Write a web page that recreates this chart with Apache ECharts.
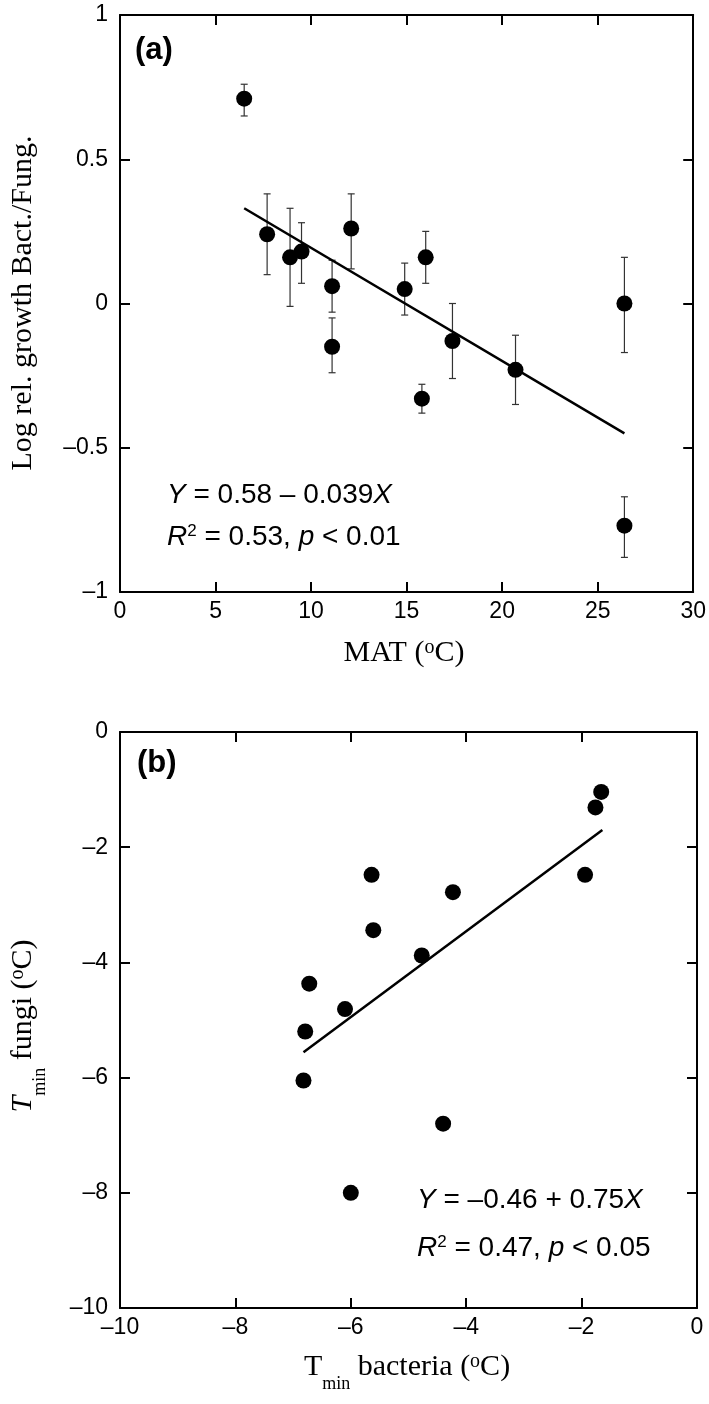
<!DOCTYPE html>
<html><head><meta charset="utf-8">
<script src="https://cdn.jsdelivr.net/npm/echarts@6/dist/echarts.min.js"></script>
<style>html,body{margin:0;padding:0;background:#fff}#c{width:709px;height:1404px}</style>
</head><body><div id="c"></div>
<script>
// ---------- Panel (a): MAT vs log relative growth Bact./Fung. ----------
const matX        = [6.5, 7.7, 8.9, 9.5, 11.1, 11.1, 12.1, 14.9, 16.0, 15.8, 17.4, 20.7, 26.4, 26.4];
const ratioY      = [0.71, 0.24, 0.16, 0.18, 0.06, -0.15, 0.26, 0.05, 0.16, -0.33, -0.13, -0.23, 0.00, -0.77];
const ratioErrHi  = [0.76, 0.38, 0.33, 0.28, 0.15, -0.05, 0.38, 0.14, 0.25, -0.28, 0.00, -0.11, 0.16, -0.67];
const ratioErrLo  = [0.65, 0.10, -0.01, 0.07, -0.03, -0.24, 0.12, -0.04, 0.07, -0.38, -0.26, -0.35, -0.17, -0.88];
const fitLineA    = [[6.5, 0.33], [26.4, -0.45]];
const xTicksA     = {min: 0, max: 30, step: 5};
const yTicksA     = {min: -1, max: 1, step: 0.5};

// ---------- Panel (b): Tmin bacteria vs Tmin fungi ----------
const bactTmin    = [-1.66, -1.76, -1.94, -4.23, -5.64, -5.61, -4.77, -6.72, -6.10, -6.79, -6.82, -6.00, -4.40];
const fungiTmin   = [-1.04, -1.31, -2.48, -2.78, -2.48, -3.44, -3.88, -4.37, -4.81, -5.20, -6.05, -8.00, -6.80];
const fitLineB    = [[-6.82, -5.56], [-1.64, -1.70]];
const xTicksB     = {min: -10, max: 0, step: 2};
const yTicksB     = {min: -10, max: 0, step: 2};

const SANS = '"Liberation Sans", Arial, sans-serif';
const SERIF = '"Liberation Serif", "Times New Roman", serif';
const fmt = v => String(v).replace('-', '\u2013');

function axis(gridIndex, position, t, showLabel) {
  return {
    type: 'value', gridIndex, position, min: t.min, max: t.max, interval: t.step,
    axisLine: {show: true, onZero: false, lineStyle: {color: '#000', width: 2}},
    axisTick: {show: true, inside: true, length: 10, lineStyle: {color: '#000', width: 2}},
    axisLabel: {show: showLabel, margin: (position === 'bottom' ? 8 : 12), fontSize: 23,
      fontFamily: SANS, color: '#000', formatter: fmt},
    splitLine: {show: false}
  };
}

function renderErr(params, api) {
  const x = api.value(0), lo = api.value(1), hi = api.value(2);
  const p1 = api.coord([x, hi]), p2 = api.coord([x, lo]);
  const w = 3.5, st = {stroke: '#333', lineWidth: 1.2};
  return {type: 'group', children: [
    {type: 'line', shape: {x1: p1[0], y1: p1[1], x2: p2[0], y2: p2[1]}, style: st},
    {type: 'line', shape: {x1: p1[0] - w, y1: p1[1], x2: p1[0] + w, y2: p1[1]}, style: st},
    {type: 'line', shape: {x1: p2[0] - w, y1: p2[1], x2: p2[0] + w, y2: p2[1]}, style: st}
  ]};
}

const titleRich = {
  n:   {fontSize: 30, fontFamily: SERIF, verticalAlign: 'top'},
  it:  {fontSize: 30, fontFamily: SERIF, fontStyle: 'italic', verticalAlign: 'top'},
  sub: {fontSize: 18, fontFamily: SERIF, verticalAlign: 'bottom', padding: [23, 0, 0, 0]},
  sup: {fontSize: 20, fontFamily: SERIF, verticalAlign: 'top'}
};
const annRich = {
  n:   {fontSize: 28, fontFamily: SANS, verticalAlign: 'top'},
  i:   {fontSize: 28, fontFamily: SANS, fontStyle: 'italic', verticalAlign: 'top'},
  sup: {fontSize: 17, fontFamily: SANS, verticalAlign: 'top'}
};
function txt(x, y, text, style, rotation) {
  return {type: 'text', x, y, rotation: rotation || 0, silent: true, z: 10,
    style: Object.assign({text, fill: '#000'}, style)};
}

const chart = echarts.init(document.getElementById('c'), null, {renderer: 'canvas'});
chart.setOption({
  animation: false,
  backgroundColor: '#fff',
  grid: [
    {left: 120, top: 15, width: 577, height: 577},
    {left: 120, top: 732, width: 577, height: 576}
  ],
  xAxis: [
    axis(0, 'bottom', xTicksA, true), axis(0, 'top', xTicksA, false),
    axis(1, 'bottom', xTicksB, true), axis(1, 'top', xTicksB, false)
  ],
  yAxis: [
    axis(0, 'left', yTicksA, true), axis(0, 'right', yTicksA, false),
    axis(1, 'left', yTicksB, true), axis(1, 'right', yTicksB, false)
  ],
  series: [
    {type: 'custom', xAxisIndex: 0, yAxisIndex: 0, z: 2, renderItem: renderErr,
     encode: {x: 0, y: [1, 2]},
     data: matX.map((x, i) => [x, ratioErrLo[i], ratioErrHi[i]])},
    {type: 'line', xAxisIndex: 0, yAxisIndex: 0, z: 3, data: fitLineA, symbol: 'none',
     lineStyle: {color: '#000', width: 2.5}},
    {type: 'scatter', xAxisIndex: 0, yAxisIndex: 0, z: 4, symbolSize: 16,
     itemStyle: {color: '#000', opacity: 1}, data: matX.map((x, i) => [x, ratioY[i]])},
    {type: 'line', xAxisIndex: 2, yAxisIndex: 2, z: 3, data: fitLineB, symbol: 'none',
     lineStyle: {color: '#000', width: 2.5}},
    {type: 'scatter', xAxisIndex: 2, yAxisIndex: 2, z: 4, symbolSize: 16,
     itemStyle: {color: '#000', opacity: 1}, data: bactTmin.map((x, i) => [x, fungiTmin[i]])}
  ],
  graphic: [
    txt(135, 50, '(a)', {font: 'bold 31px ' + SANS, align: 'left', verticalAlign: 'middle'}),
    txt(137, 763, '(b)', {font: 'bold 31px ' + SANS, align: 'left', verticalAlign: 'middle'}),
    // panel (a) titles
    txt(23, 303, 'Log rel. growth Bact./Fung.', {font: '30px ' + SERIF, align: 'center', verticalAlign: 'middle'}, Math.PI / 2),
    txt(404, 638, '{n|MAT (}{sup|o}{n|C)}', {rich: titleRich, align: 'center', verticalAlign: 'top'}),
    txt(167, 481, '{i|Y}{n| = 0.58 \u2013 0.039}{i|X}', {rich: annRich, align: 'left', verticalAlign: 'top'}),
    txt(167, 523, '{i|R}{sup|2}{n| = 0.53, }{i|p}{n| < 0.01}', {rich: annRich, align: 'left', verticalAlign: 'top'}),
    // panel (b) titles
    txt(8, 1026, '{it|T}{sub|min}{n| fungi (}{sup|o}{n|C)}', {rich: titleRich, align: 'center', verticalAlign: 'top'}, Math.PI / 2),
    txt(407, 1352, '{n|T}{sub|min}{n| bacteria (}{sup|o}{n|C)}', {rich: titleRich, align: 'center', verticalAlign: 'top'}),
    txt(417, 1186, '{i|Y}{n| = \u20130.46 + 0.75}{i|X}', {rich: annRich, align: 'left', verticalAlign: 'top'}),
    txt(417, 1234, '{i|R}{sup|2}{n| = 0.47, }{i|p}{n| < 0.05}', {rich: annRich, align: 'left', verticalAlign: 'top'})
  ]
});
</script>
</body></html>
